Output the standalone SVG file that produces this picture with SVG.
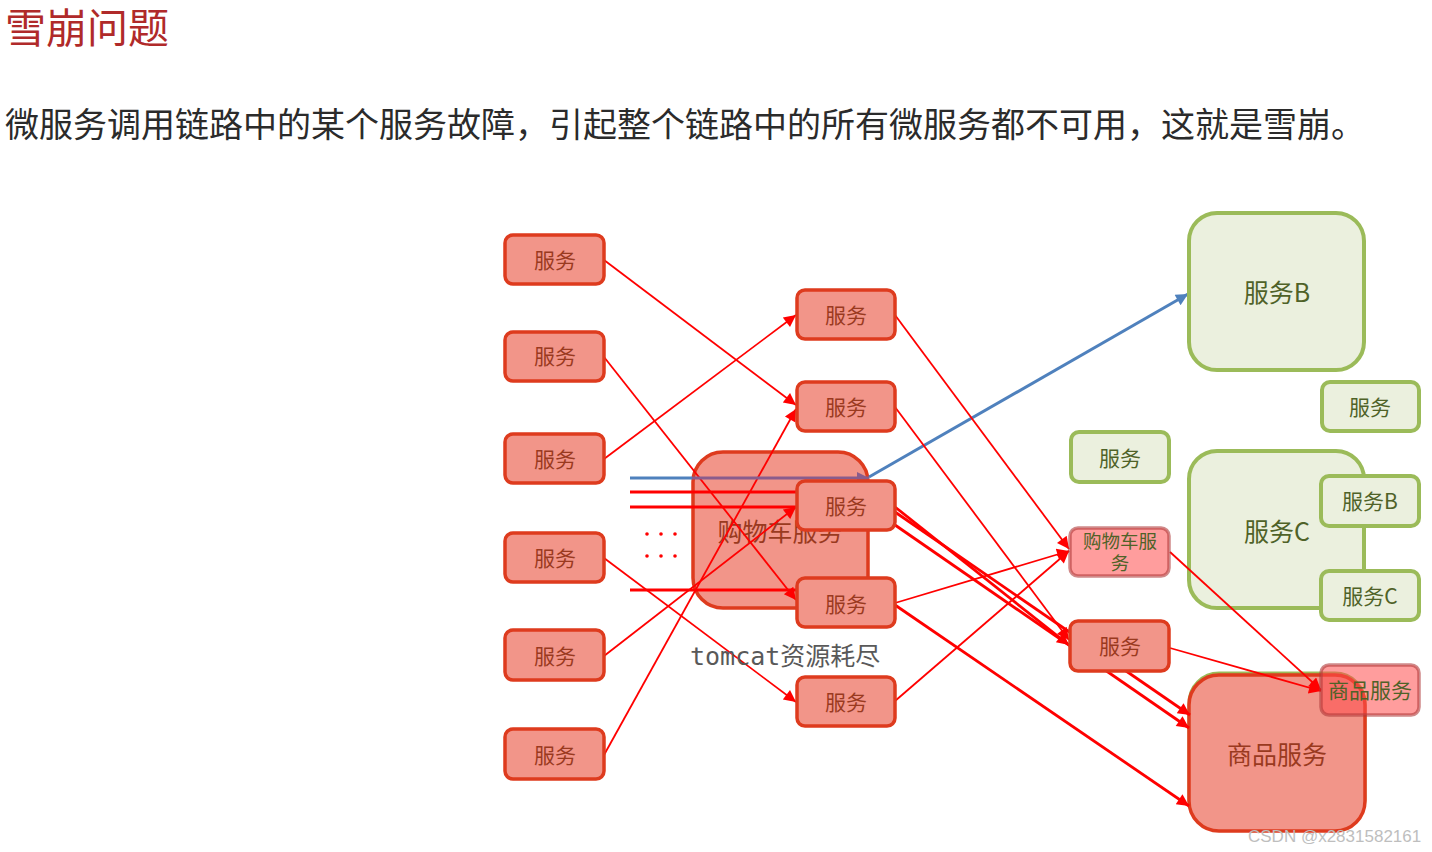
<svg xmlns="http://www.w3.org/2000/svg" width="1432" height="852" viewBox="0 0 1432 852">
<style>
.cj{font-family:"Noto Sans CJK SC","Noto Sans",sans-serif}
.rn{fill:#F29589;stroke:#DE3B1E;stroke-width:3.5}
.rt{fill:#9A3A1F;font-size:21px;text-anchor:middle;dominant-baseline:central;font-family:"Noto Sans CJK SC","Noto Sans",sans-serif}
.rtb{fill:#9A3A1F;font-size:25px;text-anchor:middle;dominant-baseline:central;font-family:"Noto Sans CJK SC","Noto Sans",sans-serif}
.gn{fill:#EBF0DE;stroke:#9BBB59;stroke-width:4}
.gt{fill:#4F6228;font-size:21px;text-anchor:middle;dominant-baseline:central;font-family:"Noto Sans CJK SC","Noto Sans",sans-serif}
.gtb{fill:#4F6228;font-size:25px;text-anchor:middle;dominant-baseline:central;font-family:"Noto Sans CJK SC","Noto Sans",sans-serif}
.pn{fill:#FF4D4D;fill-opacity:0.55;stroke:#B03A3A;stroke-opacity:0.6;stroke-width:3.5}
.l{fill:none;stroke:#FF0000;stroke-width:1.8}
.lt{fill:none;stroke:#FF0000;stroke-width:2.8}
.h{fill:none;stroke:#FF0000;stroke-width:3}
</style>
<defs>
<marker id="ar" viewBox="0 0 10 10" refX="10" refY="5" markerWidth="15" markerHeight="12" markerUnits="userSpaceOnUse" orient="auto"><path d="M0,0 L10,5 L0,10 z" fill="#FF0000"/></marker>
<marker id="ab" viewBox="0 0 10 10" refX="10" refY="5" markerWidth="15" markerHeight="12" markerUnits="userSpaceOnUse" orient="auto"><path d="M0,0 L10,5 L0,10 z" fill="#4F81BD"/></marker>
<marker id="ap" viewBox="0 0 10 10" refX="10" refY="5" markerWidth="15" markerHeight="12" markerUnits="userSpaceOnUse" orient="auto"><path d="M0,0 L10,5 L0,10 z" fill="#8A5C8C"/></marker>
<linearGradient id="bg" gradientUnits="userSpaceOnUse" x1="630" y1="0" x2="869" y2="0">
<stop offset="0" stop-color="#4F81BD"/><stop offset="0.26" stop-color="#4F81BD"/><stop offset="0.26" stop-color="#8A5C8C"/><stop offset="1" stop-color="#8A5C8C"/>
</linearGradient>
</defs>
<rect width="1432" height="852" fill="#FFFFFF"/>
<text x="5" y="43" class="cj" font-size="41" fill="#B02A2A">雪崩问题</text>
<text x="5" y="137" class="cj" font-size="34" fill="#2B2B2B">微服务调用链路中的某个服务故障，引起整个链路中的所有微服务都不可用，这就是雪崩。</text>

<g id="n-cart-big"><rect class="rn" x="693" y="452" width="175" height="156" rx="30" stroke-width="4"/><text class="rtb" x="780" y="530">购物车服务</text></g>
<g id="n-svcC-big"><rect class="gn" x="1189" y="451" width="175" height="157" rx="28"/><text class="gtb" x="1277" y="530">服务C</text></g>
<g id="n-goods-big"><rect x="1189" y="673" width="176" height="156" rx="30" fill="none" stroke="#9BBB59" stroke-width="3"/><rect class="rn" x="1189" y="675" width="176" height="156" rx="30" stroke="#E8301C" stroke-width="4"/><text class="rtb" x="1277" y="753">商品服务</text></g>

<g id="connectors">
<line class="l" x1="604" y1="260" x2="796" y2="405" marker-end="url(#ar)"/>
<line class="l" x1="604" y1="357" x2="796" y2="600" marker-end="url(#ar)"/>
<line class="l" x1="604" y1="459" x2="796" y2="315" marker-end="url(#ar)"/>
<line class="l" x1="604" y1="558" x2="796" y2="702" marker-end="url(#ar)"/>
<line class="l" x1="604" y1="656" x2="796" y2="507" marker-end="url(#ar)"/>
<line class="l" x1="604" y1="755" x2="796" y2="409" marker-end="url(#ar)"/>
<line x1="630" y1="478" x2="869" y2="478" stroke="url(#bg)" stroke-width="3" marker-end="url(#ap)"/>
<line class="h" x1="630" y1="492" x2="797" y2="492"/>
<line class="h" x1="630" y1="507" x2="797" y2="507"/>
<line class="h" x1="630" y1="590" x2="797" y2="590"/>
<line x1="869" y1="477" x2="1188" y2="294" stroke="#4F81BD" stroke-width="3" marker-end="url(#ab)"/>
<line class="l" x1="895" y1="315" x2="1069" y2="549" marker-end="url(#ar)"/>
<line class="l" x1="895" y1="407" x2="1069" y2="640" marker-end="url(#ar)"/>
<line class="lt" x1="895" y1="507" x2="1069" y2="645" marker-end="url(#ar)"/>
<line class="lt" x1="895" y1="512" x2="1190" y2="715" marker-end="url(#ar)"/>
<line class="lt" x1="895" y1="525" x2="1189" y2="728" marker-end="url(#ar)"/>
<line class="l" x1="895" y1="603" x2="1069" y2="551" marker-end="url(#ar)"/>
<line class="lt" x1="895" y1="605" x2="1189" y2="806" marker-end="url(#ar)"/>
<line class="l" x1="895" y1="701" x2="1069" y2="551" marker-end="url(#ar)"/>
<line class="l" x1="1170" y1="552" x2="1321" y2="690" marker-end="url(#ar)"/>
<line class="l" x1="1170" y1="648" x2="1321" y2="691" marker-end="url(#ar)"/>
</g>

<g id="dots" fill="#FF0000">
<circle cx="647" cy="534" r="1.8"/><circle cx="661" cy="534" r="1.8"/><circle cx="675" cy="534" r="1.8"/>
<circle cx="647" cy="556" r="1.8"/><circle cx="661" cy="556" r="1.8"/><circle cx="675" cy="556" r="1.8"/>
</g>

<g id="n-l1"><rect class="rn" x="505" y="235" width="99" height="49" rx="8"/><text class="rt" x="555" y="259">服务</text></g>
<g id="n-l2"><rect class="rn" x="505" y="332" width="99" height="49" rx="8"/><text class="rt" x="555" y="355">服务</text></g>
<g id="n-l3"><rect class="rn" x="505" y="434" width="99" height="49" rx="8"/><text class="rt" x="555" y="458">服务</text></g>
<g id="n-l4"><rect class="rn" x="505" y="533" width="99" height="49" rx="8"/><text class="rt" x="555" y="557">服务</text></g>
<g id="n-l5"><rect class="rn" x="505" y="630" width="99" height="50" rx="8"/><text class="rt" x="555" y="655">服务</text></g>
<g id="n-l6"><rect class="rn" x="505" y="729" width="99" height="50" rx="8"/><text class="rt" x="555" y="754">服务</text></g>

<g id="n-m1"><rect class="rn" x="797" y="290" width="98" height="49" rx="8"/><text class="rt" x="846" y="314">服务</text></g>
<g id="n-m2"><rect class="rn" x="797" y="382" width="98" height="49" rx="8"/><text class="rt" x="846" y="406">服务</text></g>
<g id="n-m3"><rect class="rn" x="797" y="481" width="98" height="49" rx="8"/><text class="rt" x="846" y="505">服务</text></g>
<g id="n-m4"><rect class="rn" x="797" y="578" width="98" height="49" rx="8"/><text class="rt" x="846" y="603">服务</text></g>
<g id="n-m5"><rect class="rn" x="797" y="677" width="98" height="49" rx="8"/><text class="rt" x="846" y="701">服务</text></g>

<text x="690" y="665" font-family="'DejaVu Sans Mono','Noto Sans CJK SC',monospace" font-size="25" fill="#595959">tomcat<tspan font-family="'Noto Sans CJK SC',sans-serif">资源耗尽</tspan></text>

<g id="n-svcB-big"><rect class="gn" x="1189" y="213" width="175" height="157" rx="28"/><text class="gtb" x="1277" y="291">服务B</text></g>
<g id="n-g1"><rect class="gn" x="1322" y="382" width="97" height="49" rx="8"/><text class="gt" x="1370" y="406">服务</text></g>
<g id="n-g2"><rect class="gn" x="1071" y="432" width="98" height="50" rx="8"/><text class="gt" x="1120" y="457">服务</text></g>
<g id="n-svcB-s"><rect class="gn" x="1321" y="476" width="98" height="50" rx="8"/><text class="gt" x="1370" y="500">服务B</text></g>
<g id="n-svcC-s"><rect class="gn" x="1321" y="571" width="98" height="49" rx="8"/><text class="gt" x="1370" y="595">服务C</text></g>
<g id="n-cart-s"><rect class="pn" x="1070" y="528" width="99" height="48" rx="8"/><text class="cj" x="1120" y="548" font-size="18.5" fill="#4F6228" text-anchor="middle">购物车服</text><text class="cj" x="1120" y="570" font-size="18.5" fill="#4F6228" text-anchor="middle">务</text></g>
<g id="n-red"><rect class="rn" x="1070" y="621" width="99" height="50" rx="8"/><text class="rt" x="1120" y="645">服务</text></g>
<g id="n-goods-s"><rect class="pn" x="1321" y="665" width="98" height="50" rx="8"/><text class="gt" x="1370" y="689">商品服务</text></g>

<text x="1248" y="842" font-family="'Liberation Sans',sans-serif" font-size="17" fill="#BEBEBE">CSDN @x2831582161</text>
</svg>
